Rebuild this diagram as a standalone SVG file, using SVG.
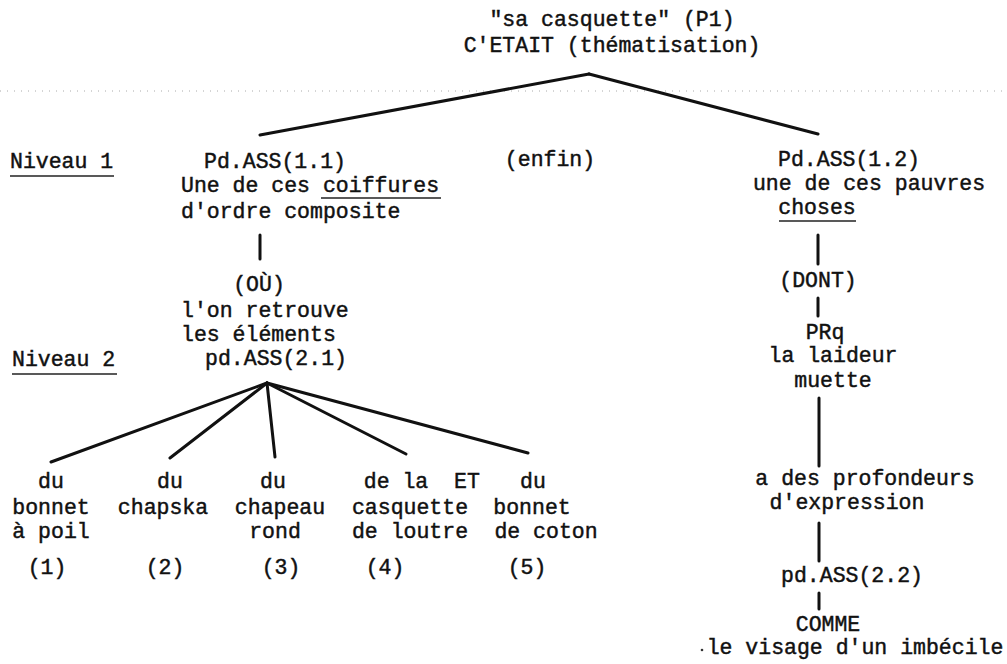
<svg xmlns="http://www.w3.org/2000/svg" width="1007" height="664" viewBox="0 0 1007 664">
  <style>
    text { font-family: "Liberation Mono", "DejaVu Sans Mono", monospace; font-size: 21.5px; fill: #111; stroke: #111; stroke-width: 0.45; }
    .m { text-anchor: middle; }
    .e { stroke: #111; stroke-width: 3; stroke-linecap: round; fill: none; }
    .u { stroke: #222; stroke-width: 1.6; fill: none; }
    .dot { stroke: #aaa; stroke-width: 1; stroke-dasharray: 1 6; fill: none; }
  </style>
  <rect width="1007" height="664" fill="#fff"/>
  <line class="dot" x1="0" y1="91" x2="1007" y2="91"/>

  <g id="connectors">
    <line class="e" x1="589" y1="74" x2="260" y2="135"/>
    <line class="e" x1="589" y1="74" x2="818" y2="134"/>
    <line class="e" x1="260" y1="235" x2="260" y2="259"/>
    <line class="e" x1="267" y1="383" x2="51" y2="462"/>
    <line class="e" x1="267" y1="383" x2="170" y2="458"/>
    <line class="e" x1="267" y1="383" x2="275" y2="457"/>
    <line class="e" x1="267" y1="383" x2="406" y2="454"/>
    <line class="e" x1="267" y1="383" x2="528" y2="453"/>
    <line class="e" x1="818" y1="235" x2="818" y2="264"/>
    <line class="e" x1="818" y1="298" x2="818" y2="316"/>
    <line class="e" x1="819" y1="398" x2="819" y2="466"/>
    <line class="e" x1="819" y1="523" x2="819" y2="561"/>
    <line class="e" x1="819" y1="593" x2="819" y2="609"/>
  </g>

  <g id="root">
    <text class="m" x="612" y="26">"sa casquette" (P1)</text>
    <text class="m" x="612" y="52">C'ETAIT (thématisation)</text>
  </g>

  <g id="niveau1">
    <text x="10" y="168">Niveau 1</text>
    <line class="u" x1="10" y1="176" x2="114" y2="176"/>
  </g>

  <g id="pdass11">
    <text class="m" x="275" y="168">Pd.ASS(1.1)</text>
    <text x="181" y="192">Une de ces coiffures</text>
    <line class="u" x1="321" y1="198" x2="441" y2="198"/>
    <text x="181" y="218">d'ordre composite</text>
  </g>

  <g id="enfin">
    <text class="m" x="550" y="166">(enfin)</text>
  </g>

  <g id="pdass12">
    <text class="m" x="849" y="166">Pd.ASS(1.2)</text>
    <text class="m" x="869" y="190">une de ces pauvres</text>
    <text class="m" x="817" y="214">choses</text>
    <line class="u" x1="779" y1="221" x2="856" y2="221"/>
  </g>

  <g id="ou">
    <text class="m" x="259" y="291">(OÙ)</text>
    <text x="181" y="317">l'on retrouve</text>
    <text x="181" y="341">les éléments</text>
  </g>

  <g id="niveau2">
    <text x="12" y="366">Niveau 2</text>
    <line class="u" x1="12" y1="374" x2="117" y2="374"/>
  </g>

  <g id="pdass21">
    <text class="m" x="276" y="365">pd.ASS(2.1)</text>
  </g>

  <g id="leaf1">
    <text class="m" x="51" y="488">du</text>
    <text class="m" x="51" y="514">bonnet</text>
    <text class="m" x="51" y="538">à poil</text>
    <text class="m" x="47" y="574">(1)</text>
  </g>
  <g id="leaf2">
    <text class="m" x="170" y="488">du</text>
    <text class="m" x="163" y="514">chapska</text>
    <text class="m" x="165" y="574">(2)</text>
  </g>
  <g id="leaf3">
    <text class="m" x="273" y="488">du</text>
    <text class="m" x="280" y="514">chapeau</text>
    <text class="m" x="275" y="538">rond</text>
    <text class="m" x="281" y="574">(3)</text>
  </g>
  <g id="leaf4">
    <text class="m" x="396" y="488">de la</text>
    <text class="m" x="410" y="514">casquette</text>
    <text class="m" x="410" y="538">de loutre</text>
    <text class="m" x="385" y="574">(4)</text>
  </g>
  <g id="et">
    <text class="m" x="467" y="488">ET</text>
  </g>
  <g id="leaf5">
    <text class="m" x="533" y="488">du</text>
    <text class="m" x="532" y="514">bonnet</text>
    <text class="m" x="546" y="538">de coton</text>
    <text class="m" x="527" y="574">(5)</text>
  </g>

  <g id="dont">
    <text class="m" x="818" y="287">(DONT)</text>
  </g>
  <g id="prq">
    <text class="m" x="825" y="339">PRq</text>
    <text class="m" x="833" y="362">la laideur</text>
    <text class="m" x="833" y="387">muette</text>
  </g>
  <g id="profondeurs">
    <text class="m" x="865" y="485">a des profondeurs</text>
    <text class="m" x="847" y="509">d'expression</text>
  </g>
  <g id="pdass22">
    <text class="m" x="852" y="582">pd.ASS(2.2)</text>
  </g>
  <g id="comme">
    <text class="m" x="828" y="631">COMME</text>
    <circle cx="702" cy="650" r="1.3" fill="#333"/>
    <text class="m" x="855" y="654">le visage d'un imbécile</text>
  </g>
</svg>
